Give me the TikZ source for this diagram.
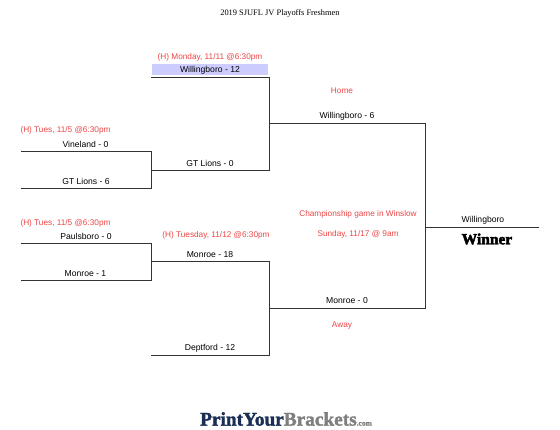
\documentclass[tikz,border=0pt]{standalone}
\usepackage{fontspec}
\setmainfont{Liberation Sans}
\newfontfamily\serifhead{Liberation Serif}
\newfontfamily\heavyserif[FakeBold=3]{Liberation Serif Bold}
\newfontfamily\brandserif[FakeBold=1.8]{Liberation Serif Bold}
\definecolor{gamered}{HTML}{EE4444}
\definecolor{linegray}{HTML}{333333}
\definecolor{hilite}{HTML}{CCCCFF}
\definecolor{brandnavy}{HTML}{1B2F55}
\definecolor{brandgray}{HTML}{7F7F7F}
\begin{document}
\begin{tikzpicture}[x=1pt,y=-1pt,
  team/.style={font=\fontsize{8.6}{10}\selectfont,text=black,inner sep=0pt,anchor=center},
  note/.style={font=\fontsize{8.25}{10}\selectfont,text=gamered,inner sep=0pt,anchor=center},
  bracket/.style={draw=linegray,line width=0.8pt,line cap=rect}]
\useasboundingbox (0,0) rectangle (560,430);
\fill[hilite] (152,64) rectangle (268,75.5);
% junction points
\coordinate (a1) at (21,151.5);  \coordinate (a2) at (151,151.5);
\coordinate (b1) at (21,188.5);  \coordinate (b2) at (151,188.5);
\coordinate (c1) at (21,243);    \coordinate (c2) at (151,243);
\coordinate (d1) at (21,280.7);  \coordinate (d2) at (151,280.7);
\coordinate (e1) at (151,77);    \coordinate (e2) at (269,77);
\coordinate (f1) at (151,170.5); \coordinate (f2) at (269,170.5);
\coordinate (g1) at (151,261.7); \coordinate (g2) at (269,261.7);
\coordinate (h1) at (151,355);   \coordinate (h2) at (269,355);
\coordinate (i1) at (269,123);   \coordinate (i2) at (425,123);
\coordinate (j1) at (269,308.3); \coordinate (j2) at (425,308.3);
\coordinate (k1) at (425,227);   \coordinate (k2) at (539,227);
\draw[bracket] (a1) -- (a2) -- (b2) -- (b1);
\draw[bracket] (c1) -- (c2) -- (d2) -- (d1);
\draw[bracket] (f1) -- (f2);
\draw[bracket] (g1) -- (g2);
\draw[bracket] (e1) -- (e2) -- (f2);
\draw[bracket] (g2) -- (h2) -- (h1);
\draw[bracket] (i1) -- (i2) -- (j2) -- (j1);
\draw[bracket] (k1) -- (k2);
% title
\node[inner sep=0pt,font=\serifhead\fontsize{8.4}{10}\selectfont] (title) at (280,13) {2019 SJUFL JV Playoffs Freshmen};
% team labels
\node[team] (t1) at (85.5,144.5) {Vineland - 0};
\node[team] (t2) at (86,181.5) {GT Lions - 6};
\node[team] (t3) at (86,236) {Paulsboro - 0};
\node[team] (t4) at (85.5,273.8) {Monroe - 1};
\node[team] (t5) at (210,70.2) {Willingboro - 12};
\node[team] (t6) at (210,163.5) {GT Lions - 0};
\node[team] (t7) at (210,254.5) {Monroe - 18};
\node[team] (t8) at (210,348) {Deptford - 12};
\node[team] (t9) at (347,116) {Willingboro - 6};
\node[team] (t10) at (347,301) {Monroe - 0};
\node[team] (t11) at (483,220) {Willingboro};
% red notes
\node[note] (n1) at (65.5,130) {(H) Tues, 11/5 @6:30pm};
\node[note] (n2) at (65.5,223.5) {(H) Tues, 11/5 @6:30pm};
\node[note] (n3) at (210,57) {(H) Monday, 11/11 @6:30pm};
\node[note] (n4) at (216,235.5) {(H) Tuesday, 11/12 @6:30pm};
\node[note] (n5) at (342,90.8) {Home};
\node[note] (n6) at (358,214.2) {Championship game in Winslow};
\node[note] (n7) at (358,234.2) {Sunday, 11/17 @ 9am};
\node[note] (n8) at (342,326) {Away};
% winner and brand
\node[inner sep=0pt,font=\heavyserif\fontsize{15.5}{17}\selectfont] (win) at (487,239) {Winner};
\node[inner sep=0pt,anchor=west,font=\brandserif\fontsize{19.3}{22}\selectfont,text=brandnavy] (brand) at (200,419)
  {PrintYour\textcolor{brandgray}{Brackets\fontsize{7.5}{10}\selectfont.com}};
\end{tikzpicture}
\end{document}
